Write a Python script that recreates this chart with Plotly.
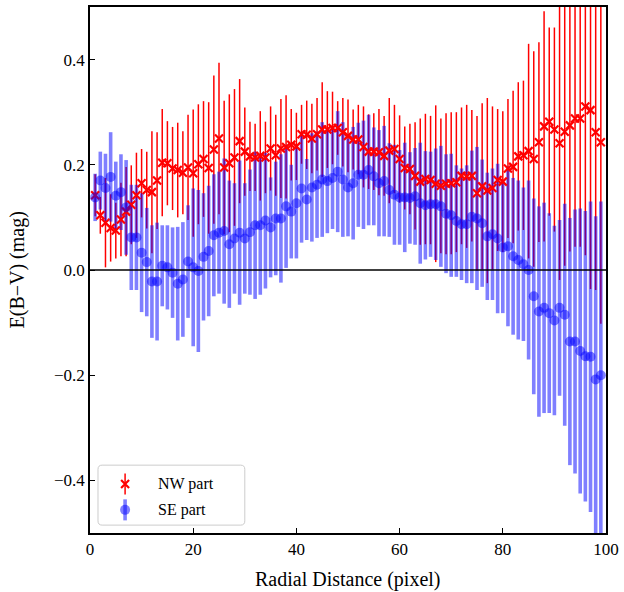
import plotly.graph_objects as go

# ---- data ----
radius = list(range(1, 100))

nw_ebv = [0.142, 0.104, 0.090, 0.080, 0.075, 0.096, 0.111, 0.124, 0.142, 0.165,
          0.152, 0.148, 0.170, 0.204, 0.203, 0.193, 0.190, 0.185, 0.195, 0.184,
          0.201, 0.211, 0.194, 0.229, 0.250, 0.195, 0.203, 0.214, 0.245, 0.225,
          0.216, 0.214, 0.217, 0.214, 0.231, 0.218, 0.231, 0.234, 0.238, 0.235,
          0.258, 0.257, 0.250, 0.258, 0.267, 0.267, 0.270, 0.270, 0.262, 0.255,
          0.248, 0.248, 0.234, 0.225, 0.225, 0.224, 0.217, 0.227, 0.230, 0.211,
          0.194, 0.192, 0.179, 0.168, 0.173, 0.171, 0.164, 0.160, 0.164, 0.165,
          0.167, 0.179, 0.178, 0.179, 0.146, 0.159, 0.151, 0.156, 0.171, 0.168,
          0.193, 0.196, 0.216, 0.218, 0.226, 0.211, 0.243, 0.273, 0.282, 0.267,
          0.241, 0.263, 0.275, 0.288, 0.288, 0.311, 0.304, 0.262, 0.243]

nw_err = [0.040, 0.035, 0.085, 0.064, 0.053, 0.070, 0.085, 0.075, 0.081, 0.065,
          0.073, 0.116, 0.092, 0.102, 0.080, 0.079, 0.090, 0.079, 0.100, 0.121,
          0.114, 0.110, 0.125, 0.141, 0.144, 0.127, 0.131, 0.130, 0.118, 0.084,
          0.066, 0.064, 0.085, 0.068, 0.080, 0.077, 0.094, 0.098, 0.068, 0.064,
          0.056, 0.065, 0.066, 0.069, 0.090, 0.073, 0.069, 0.051, 0.065, 0.069,
          0.057, 0.066, 0.077, 0.071, 0.073, 0.082, 0.076, 0.100, 0.084, 0.083,
          0.079, 0.086, 0.102, 0.120, 0.124, 0.122, 0.149, 0.128, 0.134, 0.135,
          0.133, 0.130, 0.136, 0.125, 0.147, 0.158, 0.176, 0.155, 0.135, 0.134,
          0.132, 0.145, 0.141, 0.142, 0.204, 0.205, 0.190, 0.219, 0.179, 0.194,
          0.260, 0.255, 0.240, 0.244, 0.244, 0.283, 0.340, 0.300, 0.345]

se_ebv = [0.138, 0.170, 0.156, 0.177, 0.141, 0.148, 0.119, 0.062, 0.062, 0.033,
          0.015, -0.022, -0.022, 0.008, 0.005, -0.005, -0.026, -0.018, 0.016, 0.005,
          -0.002, 0.025, 0.036, 0.066, 0.071, 0.074, 0.049, 0.060, 0.071, 0.060,
          0.072, 0.085, 0.085, 0.094, 0.081, 0.098, 0.098, 0.121, 0.111, 0.127,
          0.155, 0.134, 0.157, 0.162, 0.172, 0.169, 0.175, 0.187, 0.172, 0.157,
          0.165, 0.181, 0.181, 0.190, 0.178, 0.165, 0.169, 0.152, 0.143, 0.138,
          0.138, 0.137, 0.140, 0.127, 0.123, 0.125, 0.125, 0.121, 0.107, 0.104,
          0.093, 0.087, 0.087, 0.101, 0.098, 0.089, 0.064, 0.068, 0.060, 0.043,
          0.045, 0.026, 0.019, 0.011, 0.000, -0.050, -0.079, -0.072, -0.082, -0.096,
          -0.072, -0.085, -0.136, -0.136, -0.154, -0.164, -0.165, -0.208, -0.200]

se_err = [0.045, 0.055, 0.065, 0.085, 0.065, 0.072, 0.090, 0.100, 0.100, 0.113,
          0.103, 0.107, 0.112, 0.077, 0.080, 0.086, 0.108, 0.109, 0.107, 0.150,
          0.154, 0.121, 0.124, 0.116, 0.116, 0.138, 0.121, 0.105, 0.137, 0.105,
          0.119, 0.140, 0.132, 0.129, 0.095, 0.108, 0.122, 0.117, 0.089, 0.105,
          0.103, 0.077, 0.103, 0.101, 0.109, 0.099, 0.097, 0.115, 0.109, 0.093,
          0.107, 0.099, 0.103, 0.105, 0.093, 0.101, 0.105, 0.089, 0.095, 0.090,
          0.104, 0.087, 0.092, 0.115, 0.103, 0.100, 0.106, 0.115, 0.113, 0.117,
          0.106, 0.106, 0.112, 0.126, 0.136, 0.121, 0.121, 0.125, 0.142, 0.125,
          0.152, 0.149, 0.151, 0.146, 0.170, 0.186, 0.200, 0.200, 0.190, 0.180,
          0.167, 0.211, 0.235, 0.251, 0.271, 0.276, 0.295, 0.310, 0.330]

series_names = ["NW part", "SE part"]
y_tickvals = [-0.4, -0.2, 0.0, 0.2, 0.4]
y_ticktext = ["\u22120.4", "\u22120.2", "0.0", "0.2", "0.4"]
x_tickvals = [0, 20, 40, 60, 80, 100]

RED = "rgb(255,0,0)"
BLUE_A = "rgba(0,0,255,0.5)"
FONT = "Liberation Serif"

fig = go.Figure()

# error bars first (below all markers, like matplotlib)
fig.add_trace(go.Scatter(
    x=radius, y=nw_ebv, mode="markers", showlegend=False, hoverinfo="skip",
    marker=dict(size=1, color="rgba(0,0,0,0)"),
    error_y=dict(type="data", array=nw_err, color=RED, thickness=1.5, width=0)))
fig.add_trace(go.Scatter(
    x=radius, y=se_ebv, mode="markers", showlegend=False, hoverinfo="skip",
    marker=dict(size=1, color="rgba(0,0,0,0)"),
    error_y=dict(type="data", array=se_err, color=BLUE_A, thickness=3.6, width=0)))
# markers
fig.add_trace(go.Scatter(
    x=radius, y=nw_ebv, mode="markers", name=series_names[0], showlegend=False,
    marker=dict(symbol="x-thin", size=8, color=RED, line=dict(width=2.2, color=RED))))
fig.add_trace(go.Scatter(
    x=radius, y=se_ebv, mode="markers", name=series_names[1], showlegend=False,
    marker=dict(symbol="circle", size=10, color=BLUE_A, line=dict(width=0))))

# legend drawn in an overlay axis (0..1 coordinates over the plot area)
leg_x = [0.068, 0.068]
leg_y = [0.093, 0.044]
fig.add_trace(go.Scatter(
    x=[leg_x[0]], y=[leg_y[0]], xaxis="x2", yaxis="y2", mode="markers",
    showlegend=False, hoverinfo="skip",
    marker=dict(symbol="x-thin", size=8, color=RED, line=dict(width=2.2, color=RED)),
    error_y=dict(type="constant", value=0.02, color=RED, thickness=1.5, width=0)))
fig.add_trace(go.Scatter(
    x=[leg_x[1]], y=[leg_y[1]], xaxis="x2", yaxis="y2", mode="markers",
    showlegend=False, hoverinfo="skip",
    marker=dict(symbol="circle", size=10, color=BLUE_A, line=dict(width=0)),
    error_y=dict(type="constant", value=0.02, color=BLUE_A, thickness=3.6, width=0)))

for name, yy in zip(series_names, leg_y):
    fig.add_annotation(x=0.127, y=yy, xref="paper", yref="paper", text=name,
                       showarrow=False, xanchor="left", yanchor="middle",
                       font=dict(family=FONT, size=16, color="black"))

# rounded legend frame
x0, x1, y0, y1 = 0.0155, 0.300, 0.015, 0.129
rx, ry = 0.008, 0.008
path = (f"M {x0+rx},{y0} L {x1-rx},{y0} Q {x1},{y0} {x1},{y0+ry} "
        f"L {x1},{y1-ry} Q {x1},{y1} {x1-rx},{y1} L {x0+rx},{y1} "
        f"Q {x0},{y1} {x0},{y1-ry} L {x0},{y0+ry} Q {x0},{y0} {x0+rx},{y0} Z")
fig.add_shape(type="path", path=path, xref="paper", yref="paper",
              fillcolor="rgba(255,255,255,0.8)", line=dict(color="#cccccc", width=1),
              layer="below")

# zero line
fig.add_shape(type="line", xref="paper", yref="y", x0=0, x1=1, y0=0, y1=0,
              line=dict(color="black", width=1.5), layer="above")

# axis titles
fig.add_annotation(x=0.5, y=0, xref="paper", yref="paper", yanchor="top",
                   yshift=-33, showarrow=False, text="Radial Distance (pixel)",
                   font=dict(family=FONT, size=20, color="black"))
fig.add_annotation(x=0, y=0.5, xref="paper", yref="paper", xanchor="right",
                   xshift=-60, showarrow=False, text="E(B\u2212V) (mag)", textangle=-90,
                   font=dict(family=FONT, size=20, color="black"))

axis_common = dict(showline=True, linecolor="black", linewidth=1.5, mirror=True,
                   ticks="inside", ticklen=5, tickwidth=1, tickcolor="black",
                   showgrid=False, zeroline=False,
                   tickfont=dict(family=FONT, size=17, color="black"))

fig.update_layout(
    width=624, height=592,
    margin=dict(l=90, r=17, t=5, b=59),
    paper_bgcolor="white", plot_bgcolor="white",
    xaxis=dict(range=[0, 100], tickvals=x_tickvals, **axis_common),
    yaxis=dict(range=[-0.5, 0.5], tickvals=y_tickvals, ticktext=y_ticktext,
               **axis_common),
    xaxis2=dict(overlaying="x", range=[0, 1], visible=False, fixedrange=True),
    yaxis2=dict(overlaying="y", range=[0, 1], visible=False, fixedrange=True),
    showlegend=False,
)

fig.write_html("out.html")
